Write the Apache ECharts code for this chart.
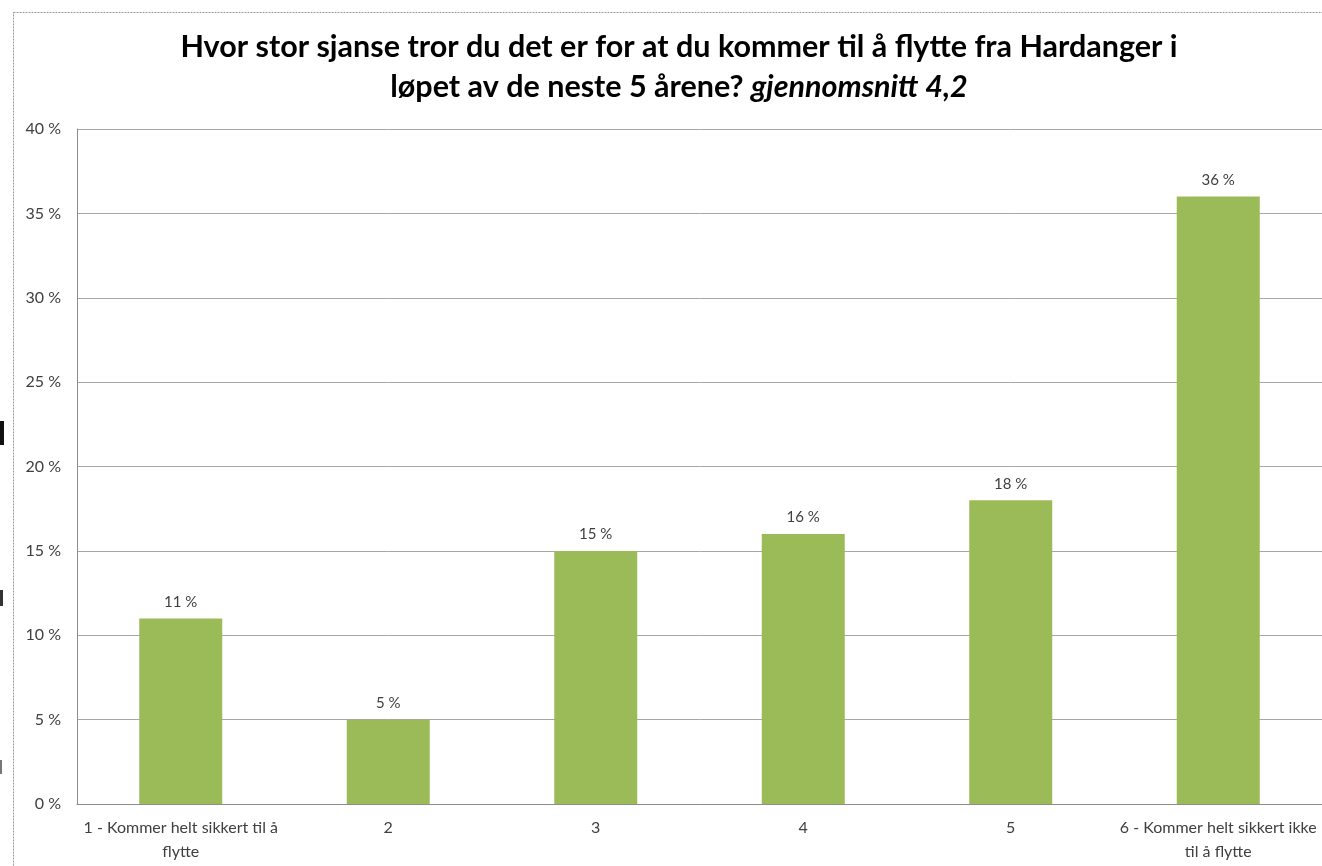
<!DOCTYPE html>
<html>
<head>
<meta charset="utf-8">
<script src="https://cdn.jsdelivr.net/npm/echarts@6/dist/echarts.min.js"></script>
<style>
  html, body { margin: 0; padding: 0; background: #fff; }
  #chart { width: 1322px; height: 866px; }
</style>
</head>
<body>
<div id="chart"></div>
<script>
const categories = [
  '1 - Kommer helt sikkert til å\nflytte',
  '2',
  '3',
  '4',
  '5',
  '6 - Kommer helt sikkert ikke\ntil å flytte'
];
const shares = [11, 5, 15, 16, 18, 36];
const yTicks = { min: 0, max: 40, interval: 5 };

const chart = echarts.init(document.getElementById('chart'));

const textColor = '#404040';
const font = 'Lato, "Open Sans", sans-serif';

chart.setOption({
  animation: false,
  textStyle: { fontFamily: font },
  graphic: [
    // dotted frame of the chart area
    {
      type: 'rect',
      shape: { x: 13.5, y: 12.5, width: 1330, height: 880 },
      style: { fill: 'none', stroke: '#9a9a9a', lineWidth: 1, lineDash: [2, 1] }
    },
    // stray marks at the far left edge
    { type: 'rect', shape: { x: 0, y: 421, width: 4, height: 24 }, style: { fill: '#111' } },
    { type: 'rect', shape: { x: 0, y: 590, width: 3, height: 16 }, style: { fill: '#333' } },
    { type: 'rect', shape: { x: 0, y: 760, width: 2, height: 14 }, style: { fill: '#777' } },
    {
      type: 'text',
      x: 679,
      y: 27,
      style: {
        text: '{b|Hvor stor sjanse tror du det er for at du kommer til å flytte fra Hardanger i}\n{b|løpet av de neste 5 årene? }{i|gjennomsnitt 4,2}',
        align: 'center',
        verticalAlign: 'top',
        rich: {
          b: { fontFamily: font, fontSize: 30.5, fontWeight: 'bold', fill: '#000', lineHeight: 40 },
          i: { fontFamily: font, fontSize: 30.5, fontWeight: 'bold', fontStyle: 'italic', fill: '#000', lineHeight: 40 }
        }
      }
    }
  ],
  grid: { left: 77, top: 129, width: 1248, height: 675, containLabel: false },
  xAxis: {
    type: 'category',
    data: categories,
    axisLine: { lineStyle: { color: '#8c8c8c', width: 1 } },
    axisTick: { show: false },
    axisLabel: {
      interval: 0,
      color: textColor,
      fontSize: 16,
      lineHeight: 24,
      margin: 12
    }
  },
  yAxis: {
    type: 'value',
    min: yTicks.min,
    max: yTicks.max,
    interval: yTicks.interval,
    axisLine: { show: true, lineStyle: { color: '#8c8c8c', width: 1 } },
    axisTick: { show: false },
    splitLine: { lineStyle: { color: '#a6a6a6', width: 1 } },
    axisLabel: {
      formatter: '{value} %',
      color: textColor,
      fontSize: 16,
      margin: 16
    }
  },
  series: [
    {
      type: 'bar',
      data: shares,
      barWidth: 83,
      itemStyle: { color: '#9bbb59' },
      label: {
        show: true,
        position: 'top',
        distance: 9,
        color: textColor,
        fontSize: 15,
        formatter: p => p.value + ' %'
      }
    }
  ]
});
</script>
</body>
</html>
